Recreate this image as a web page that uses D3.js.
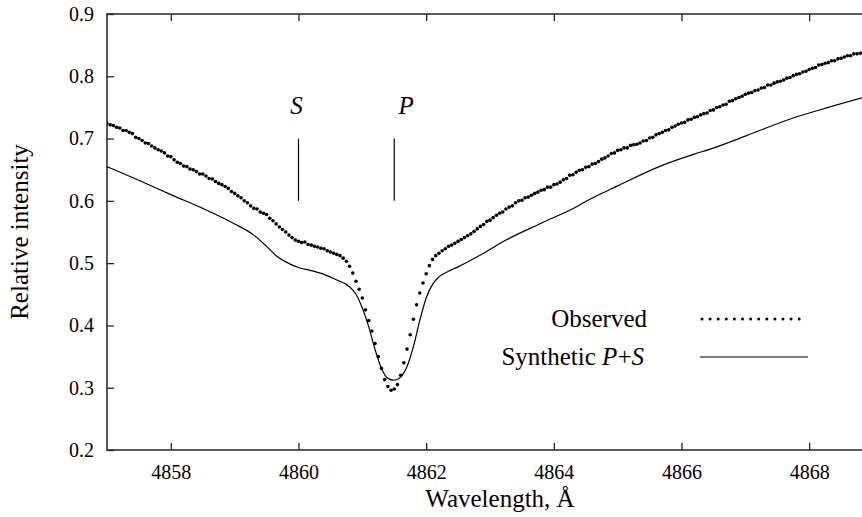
<!DOCTYPE html>
<html lang="en">
<head>
<meta charset="UTF-8">
<title>Observed and synthetic line profile</title>
<script src="https://d3js.org/d3.v7.min.js"></script>
<style>
  body { margin: 0; background: #fff; }
  svg { display: block; }
  svg text { font-family: "Liberation Serif", "DejaVu Serif", serif !important; fill: #000; }
  .tick text { font-size: 20px; }
  .tick line { stroke: #222; stroke-width: 1.3; }
  .label { font-size: 25px; }
</style>
</head>
<body>
<svg width="862" height="517"></svg>
<script>
// observed spectrum, 0.05 A sampling
const obsWave = [
  4857.00,4857.05,4857.10,4857.15,4857.20,4857.25,4857.30,4857.35,4857.40,4857.45,
  4857.50,4857.55,4857.60,4857.65,4857.70,4857.75,4857.80,4857.85,4857.90,4857.95,
  4858.00,4858.05,4858.10,4858.15,4858.20,4858.25,4858.30,4858.35,4858.40,4858.45,
  4858.50,4858.55,4858.60,4858.65,4858.70,4858.75,4858.80,4858.85,4858.90,4858.95,
  4859.00,4859.05,4859.10,4859.15,4859.20,4859.25,4859.30,4859.35,4859.40,4859.45,
  4859.50,4859.55,4859.60,4859.65,4859.70,4859.75,4859.80,4859.85,4859.90,4859.95,
  4860.00,4860.05,4860.10,4860.15,4860.20,4860.25,4860.30,4860.35,4860.40,4860.45,
  4860.50,4860.55,4860.60,4860.65,4860.70,4860.75,4860.80,4860.85,4860.90,4860.95,
  4861.00,4861.05,4861.10,4861.15,4861.20,4861.25,4861.30,4861.35,4861.40,4861.45,
  4861.50,4861.55,4861.60,4861.65,4861.70,4861.75,4861.80,4861.85,4861.90,4861.95,
  4862.00,4862.05,4862.10,4862.15,4862.20,4862.25,4862.30,4862.35,4862.40,4862.45,
  4862.50,4862.55,4862.60,4862.65,4862.70,4862.75,4862.80,4862.85,4862.90,4862.95,
  4863.00,4863.05,4863.10,4863.15,4863.20,4863.25,4863.30,4863.35,4863.40,4863.45,
  4863.50,4863.55,4863.60,4863.65,4863.70,4863.75,4863.80,4863.85,4863.90,4863.95,
  4864.00,4864.05,4864.10,4864.15,4864.20,4864.25,4864.30,4864.35,4864.40,4864.45,
  4864.50,4864.55,4864.60,4864.65,4864.70,4864.75,4864.80,4864.85,4864.90,4864.95,
  4865.00,4865.05,4865.10,4865.15,4865.20,4865.25,4865.30,4865.35,4865.40,4865.45,
  4865.50,4865.55,4865.60,4865.65,4865.70,4865.75,4865.80,4865.85,4865.90,4865.95,
  4866.00,4866.05,4866.10,4866.15,4866.20,4866.25,4866.30,4866.35,4866.40,4866.45,
  4866.50,4866.55,4866.60,4866.65,4866.70,4866.75,4866.80,4866.85,4866.90,4866.95,
  4867.00,4867.05,4867.10,4867.15,4867.20,4867.25,4867.30,4867.35,4867.40,4867.45,
  4867.50,4867.55,4867.60,4867.65,4867.70,4867.75,4867.80,4867.85,4867.90,4867.95,
  4868.00,4868.05,4868.10,4868.15,4868.20,4868.25,4868.30,4868.35,4868.40,4868.45,
  4868.50,4868.55,4868.60,4868.65,4868.70,4868.75,4868.80,4868.85
];
const obsFlux = [
  0.724,0.722,0.721,0.718,0.717,0.713,0.713,0.710,0.708,0.702,
  0.700,0.697,0.693,0.692,0.688,0.685,0.682,0.680,0.677,0.672,
  0.671,0.666,0.662,0.660,0.656,0.655,0.651,0.650,0.647,0.643,
  0.643,0.640,0.636,0.635,0.631,0.628,0.626,0.623,0.620,0.615,
  0.612,0.608,0.605,0.600,0.597,0.592,0.588,0.587,0.582,0.580,
  0.578,0.572,0.568,0.563,0.558,0.554,0.550,0.545,0.541,0.537,
  0.535,0.533,0.534,0.530,0.529,0.527,0.526,0.524,0.523,0.520,
  0.518,0.516,0.514,0.512,0.508,0.503,0.495,0.484,0.471,0.458,
  0.444,0.425,0.408,0.391,0.371,0.350,0.331,0.313,0.302,0.296,
  0.298,0.305,0.320,0.340,0.362,0.385,0.410,0.433,0.452,0.468,
  0.483,0.496,0.506,0.512,0.516,0.520,0.523,0.527,0.529,0.532,
  0.535,0.538,0.541,0.544,0.547,0.551,0.555,0.559,0.562,0.567,
  0.569,0.573,0.577,0.580,0.582,0.587,0.590,0.592,0.597,0.600,
  0.601,0.605,0.606,0.609,0.612,0.614,0.617,0.618,0.622,0.622,
  0.626,0.627,0.630,0.634,0.636,0.641,0.642,0.646,0.649,0.650,
  0.654,0.655,0.659,0.660,0.663,0.667,0.669,0.672,0.676,0.677,
  0.681,0.682,0.685,0.685,0.689,0.690,0.691,0.693,0.696,0.697,
  0.701,0.702,0.706,0.708,0.710,0.713,0.714,0.718,0.720,0.723,
  0.725,0.726,0.730,0.731,0.734,0.735,0.738,0.740,0.741,0.745,
  0.746,0.750,0.751,0.754,0.755,0.760,0.761,0.764,0.766,0.768,
  0.771,0.773,0.774,0.777,0.778,0.781,0.782,0.786,0.786,0.789,
  0.791,0.792,0.794,0.797,0.798,0.801,0.803,0.804,0.807,0.808,
  0.811,0.813,0.814,0.818,0.819,0.821,0.822,0.825,0.825,0.828,
  0.829,0.831,0.833,0.833,0.836,0.836,0.837,0.839
];

// synthetic P+S profile
const synWave = [4857.0, 4857.5, 4858.0, 4858.5, 4859.0, 4859.3, 4859.5, 4859.65, 4859.8, 4860.0,
  4860.2, 4860.4, 4860.6, 4860.8, 4860.9, 4861.0, 4861.1, 4861.2, 4861.3, 4861.4,
  4861.5, 4861.6, 4861.7, 4861.8, 4861.9, 4862.0, 4862.1, 4862.2, 4862.35, 4862.5,
  4862.85, 4863.25, 4863.8, 4864.4, 4864.5, 4865.0, 4865.65, 4866.2, 4866.45, 4867.0,
  4867.75, 4868.3, 4869.0];
const synFlux = [0.655, 0.633, 0.610, 0.588, 0.563, 0.545, 0.527, 0.512, 0.502, 0.493,
  0.488, 0.482, 0.473, 0.462, 0.450, 0.428, 0.398, 0.361, 0.331, 0.315,
  0.312, 0.317, 0.334, 0.366, 0.408, 0.444, 0.466, 0.478, 0.487, 0.494,
  0.513, 0.537, 0.564, 0.593, 0.599, 0.624, 0.655, 0.675, 0.683, 0.704,
  0.733, 0.750, 0.770];

const xTicks = [4858, 4860, 4862, 4864, 4866, 4868];
const yTicks = [0.2, 0.3, 0.4, 0.5, 0.6, 0.7, 0.8, 0.9];
const markers = [{name: "S", wave: 4860.0}, {name: "P", wave: 4861.5}];

const margin = {top: 14, left: 107},
      width = 766,
      height = 436;

const svg = d3.select("svg");
const g = svg.append("g").attr("transform", `translate(${margin.left},${margin.top})`);

const x = d3.scaleLinear().domain([4857, 4869]).range([0, width]);
const y = d3.scaleLinear().domain([0.2, 0.9]).range([height, 0]);

g.append("clipPath").attr("id", "plot-clip")
  .append("rect").attr("width", width).attr("height", height);

// axes, ticks pointing inward
g.append("g")
  .attr("transform", `translate(0,${height})`)
  .call(d3.axisBottom(x).tickValues(xTicks).tickFormat(d3.format("d")).tickSize(-7).tickSizeOuter(0).tickPadding(15))
  .call(a => a.select(".domain").remove());

g.append("g")
  .call(d3.axisTop(x).tickValues(xTicks).tickFormat("").tickSize(-7).tickSizeOuter(0))
  .call(a => a.select(".domain").remove());

g.append("g")
  .call(d3.axisLeft(y).tickValues(yTicks).tickFormat(d3.format(".1f")).tickSize(-7).tickSizeOuter(0).tickPadding(13))
  .call(a => a.select(".domain").remove());

g.append("rect")
  .attr("width", width).attr("height", height)
  .attr("fill", "none").attr("stroke", "#222").attr("stroke-width", 1.5);

// synthetic line
const synthetic = synWave.map((w, i) => ({w, f: synFlux[i]}));
g.append("path")
  .datum(synthetic)
  .attr("clip-path", "url(#plot-clip)")
  .attr("fill", "none")
  .attr("stroke", "#000")
  .attr("stroke-width", 1.2)
  .attr("d", d3.line().x(d => x(d.w)).y(d => y(d.f)).curve(d3.curveMonotoneX));

// observed points
const observed = obsWave.map((w, i) => ({w, f: obsFlux[i]}));
g.append("g")
  .attr("clip-path", "url(#plot-clip)")
  .selectAll("circle")
  .data(observed)
  .join("circle")
  .attr("cx", d => x(d.w))
  .attr("cy", d => y(d.f))
  .attr("r", 1.8)
  .attr("fill", "#000");

// component markers
markers.forEach(m => {
  g.append("line")
    .attr("x1", x(m.wave)).attr("x2", x(m.wave))
    .attr("y1", y(0.7)).attr("y2", y(0.6))
    .attr("stroke", "#000").attr("stroke-width", 1.2);
  g.append("text")
    .attr("class", "label")
    .attr("x", x(m.wave) + (m.name === "P" ? 12 : -2))
    .attr("y", y(0.74))
    .attr("text-anchor", "middle")
    .style("font-style", "italic")
    .text(m.name);
});

// legend
const legend = svg.append("g");
legend.append("text").attr("class", "label")
  .attr("x", 647).attr("y", 327).attr("text-anchor", "end")
  .text("Observed");
legend.append("line")
  .attr("x1", 702).attr("x2", 807).attr("y1", 319).attr("y2", 319)
  .attr("stroke", "#000").attr("stroke-width", 3)
  .attr("stroke-linecap", "round").attr("stroke-dasharray", "0,8.1");

const synLabel = legend.append("text").attr("class", "label")
  .attr("x", 644).attr("y", 365).attr("text-anchor", "end");
synLabel.append("tspan").text("Synthetic ");
synLabel.append("tspan").style("font-style", "italic").text("P");
synLabel.append("tspan").text("+");
synLabel.append("tspan").style("font-style", "italic").text("S");
legend.append("line")
  .attr("x1", 700).attr("x2", 808).attr("y1", 357).attr("y2", 357)
  .attr("stroke", "#000").attr("stroke-width", 1.2);

// axis titles
svg.append("text").attr("class", "label")
  .attr("transform", "translate(28,232) rotate(-90)")
  .attr("text-anchor", "middle")
  .text("Relative intensity");

svg.append("text").attr("class", "label")
  .attr("x", 500).attr("y", 507)
  .attr("text-anchor", "middle")
  .text("Wavelength, Å");
</script>
</body>
</html>
